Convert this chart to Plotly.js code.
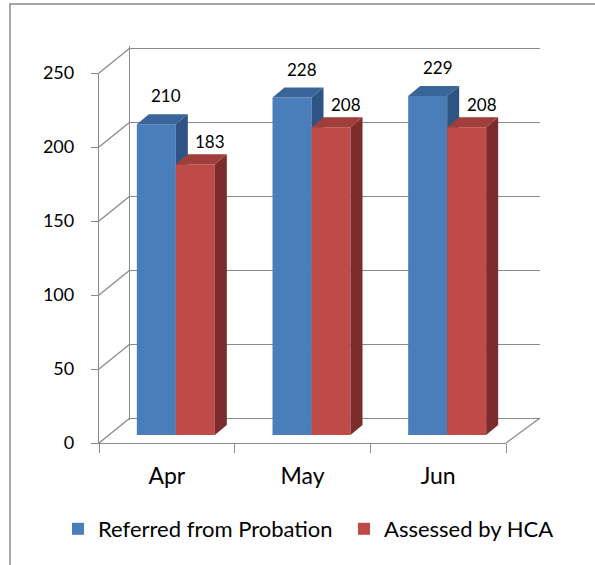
<!DOCTYPE html>
<html>
<head>
<meta charset="utf-8">
<script src="https://cdn.plot.ly/plotly-3.0.1.min.js"></script>
<style>html,body{margin:0;padding:0;background:#fff;}</style>
</head>
<body>
<div id="chart" style="width:595px;height:565px;"></div>
<script>
// ---- data ----
const categories = ['Apr', 'May', 'Jun'];
const referred = [210, 228, 229];
const assessed = [183, 208, 208];
const seriesNames = ['Referred from Probation', 'Assessed by HCA'];
const yTicks = [0, 50, 100, 150, 200, 250];

// ---- geometry (pixels) ----
const W = 595, H = 565;
const FRONT = {x0: 99, x1: 506, y0: 443, y1: 73};
const BACK = {x0: 130, x1: 540, y0: 418, y1: 48};
const BARP = {x0: 108, x1: 515, y0: 435, y1: 65};
const YMAX = 250;
const catPx = (BARP.x1 - BARP.x0) / categories.length;
const valPx = (BARP.y0 - BARP.y1) / YMAX;
const BAR_W = 39 / catPx;
const DEP_X = 12 / catPx;
const DEP_Y = 10 / valPx;
const PADV = 1.5; // keep edge gridlines of the back wall inside the range

const px = x => x / W;
const py = y => 1 - y / H;
const frontY = v => FRONT.y0 + (FRONT.y1 - FRONT.y0) * v / YMAX;
const backY = v => BACK.y0 + (BACK.y1 - BACK.y0) * v / YMAX;

const GRID = '#8a8a8a';
const COLORS = [
  {front: '#4a7ebb', top: '#3a6599', side: '#2d5482'},
  {front: '#be4b48', top: '#a03e3b', side: '#7c2d2b'}
];
const LABEL_SHIFT = [{x: 4, y: 6}, {x: 9, y: 0}];
const LEGEND_X = [58, 344];
const idx = categories.map((c, i) => i);

function faces(values, offset) {
  const side = {x: [], y: []}, top = {x: [], y: []};
  values.forEach((v, i) => {
    const xl = i + offset, xr = i + offset + BAR_W;
    top.x.push(xl, xl + DEP_X, xr + DEP_X, xr, xl, null);
    top.y.push(v, v + DEP_Y, v + DEP_Y, v, v, null);
    side.x.push(xr, xr, xr + DEP_X, xr + DEP_X, xr, null);
    side.y.push(0, v, v + DEP_Y, DEP_Y, 0, null);
  });
  return {side, top};
}

const traces = [];
traces.push({type: 'scatter', x: categories, y: [0, 0, 0], mode: 'markers', marker: {opacity: 0},
  hoverinfo: 'skip', showlegend: false, xaxis: 'x', yaxis: 'y'});
traces.push({type: 'scatter', x: [0.5], y: [0], mode: 'markers', marker: {opacity: 0},
  hoverinfo: 'skip', showlegend: false, xaxis: 'x2', yaxis: 'y2'});

[referred, assessed].forEach((vals, s) => {
  const offset = s === 0 ? -BAR_W : 0;
  const ax = s === 0 ? ['x3', 'y3'] : ['x4', 'y4'];
  const f = faces(vals, offset);
  traces.push({type: 'scatter', x: f.side.x, y: f.side.y, mode: 'lines', fill: 'toself',
    fillcolor: COLORS[s].side, line: {width: 0, color: COLORS[s].side}, hoverinfo: 'skip',
    showlegend: false, xaxis: ax[0], yaxis: ax[1]});
  traces.push({type: 'scatter', x: f.top.x, y: f.top.y, mode: 'lines', fill: 'toself',
    fillcolor: COLORS[s].top, line: {width: 0, color: COLORS[s].top}, hoverinfo: 'skip',
    showlegend: false, xaxis: ax[0], yaxis: ax[1]});
  traces.push({type: 'bar', x: idx, y: vals, width: BAR_W, offset: offset, name: seriesNames[s],
    legend: s === 0 ? 'legend' : 'legend2',
    marker: {color: COLORS[s].front, line: {width: 0}}, xaxis: ax[0], yaxis: ax[1],
    hovertemplate: '%{y}<extra>' + seriesNames[s] + '</extra>'});
});

const shapes = [];
yTicks.forEach(v => {
  shapes.push({type: 'line', xref: 'paper', yref: 'paper', layer: 'below',
    x0: px(FRONT.x0), y0: py(frontY(v)), x1: px(BACK.x0), y1: py(backY(v)),
    line: {color: GRID, width: 1.3}});
});
shapes.push({type: 'line', xref: 'paper', yref: 'paper', layer: 'below',
  x0: px(FRONT.x1), y0: py(FRONT.y0), x1: px(BACK.x1), y1: py(BACK.y0),
  line: {color: GRID, width: 1.3}});
shapes.push({type: 'rect', xref: 'paper', yref: 'paper', layer: 'below',
  x0: px(10), y0: py(4), x1: px(W + 10), y1: py(H + 10),
  line: {color: '#8a8a8a', width: 1.5}, fillcolor: 'rgba(0,0,0,0)'});

const annotations = [];
[referred, assessed].forEach((vals, s) => {
  const offset = s === 0 ? -BAR_W : 0;
  vals.forEach((v, i) => {
    annotations.push({xref: 'x3', yref: 'y3', x: i + offset + BAR_W / 2 + DEP_X / 2, y: v + DEP_Y,
      text: String(v), showarrow: false, yanchor: 'bottom', xanchor: 'center',
      xshift: LABEL_SHIFT[s].x, yshift: LABEL_SHIFT[s].y, font: {size: 17, color: '#000'}});
  });
});

const hidden = {showgrid: false, zeroline: false, showticklabels: false, ticks: '', showline: false, fixedrange: true};
const legendBase = {orientation: 'h', xanchor: 'left', y: py(529), yanchor: 'middle',
  font: {size: 22}, bgcolor: 'rgba(0,0,0,0)'};

const layout = {
  width: W, height: H,
  margin: {l: 0, r: 0, t: 0, b: 0},
  paper_bgcolor: '#ffffff', plot_bgcolor: 'rgba(0,0,0,0)',
  font: {family: 'Lato, "Open Sans", sans-serif', color: '#000', size: 18},
  showlegend: true,
  legend: Object.assign({x: px(LEGEND_X[0])}, legendBase),
  legend2: Object.assign({x: px(LEGEND_X[1])}, legendBase),
  xaxis: {domain: [px(FRONT.x0), px(FRONT.x1)], anchor: 'y', type: 'category',
    range: [-0.5, 2.5], tickson: 'boundaries', ticks: 'outside', ticklen: 9, tickwidth: 1.3,
    tickcolor: GRID, showline: true, linecolor: GRID, linewidth: 1.3, showgrid: false,
    zeroline: false, tickfont: {size: 23}, ticklabelstandoff: 12, fixedrange: true},
  yaxis: {domain: [py(FRONT.y0), py(FRONT.y1)], anchor: 'x', range: [0, YMAX],
    tickmode: 'array', tickvals: yTicks, ticks: 'outside', ticklen: 7, tickwidth: 1.3,
    tickcolor: GRID, showline: true, linecolor: GRID, linewidth: 1.3, showgrid: false,
    zeroline: false, tickfont: {size: 18}, ticklabelstandoff: 13, fixedrange: true},
  xaxis2: Object.assign({domain: [px(BACK.x0), px(BACK.x1)], anchor: 'y2', range: [0, 1]}, hidden),
  yaxis2: {domain: [py(BACK.y0 + PADV * valPx), py(BACK.y1 - PADV * valPx)], anchor: 'x2',
    range: [-PADV, YMAX + PADV],
    tickmode: 'array', tickvals: yTicks, showgrid: true, gridcolor: GRID, gridwidth: 1.3,
    showline: true, linecolor: GRID, linewidth: 1.3, ticks: '', showticklabels: false,
    zeroline: false, fixedrange: true},
  xaxis3: Object.assign({domain: [px(BARP.x0), px(BARP.x1)], anchor: 'y3', range: [-0.5, 2.5]}, hidden),
  yaxis3: Object.assign({domain: [py(BARP.y0), py(BARP.y1)], anchor: 'x3', range: [0, YMAX]}, hidden),
  xaxis4: Object.assign({overlaying: 'x3', anchor: 'y4', range: [-0.5, 2.5]}, hidden),
  yaxis4: Object.assign({overlaying: 'y3', anchor: 'x4', range: [0, YMAX]}, hidden),
  shapes: shapes,
  annotations: annotations
};

Plotly.newPlot('chart', traces, layout, {displayModeBar: false});
</script>
</body>
</html>
